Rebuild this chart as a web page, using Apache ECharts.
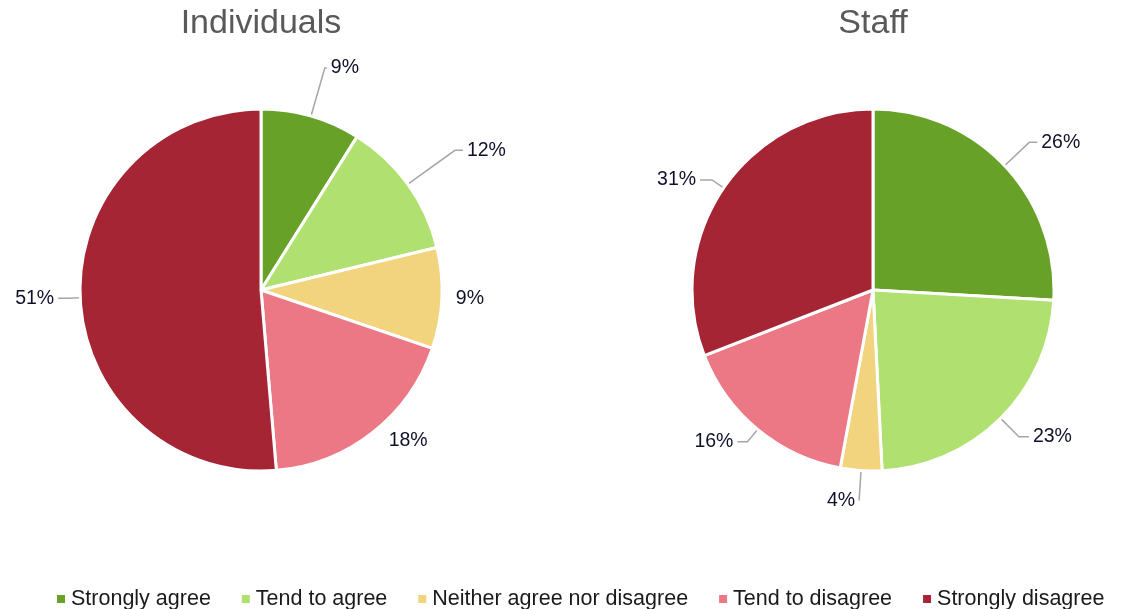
<!DOCTYPE html>
<html>
<head>
<meta charset="utf-8">
<script src="https://cdn.jsdelivr.net/npm/echarts@6/dist/echarts.min.js"></script>
<style>
html,body{margin:0;padding:0;background:#fff;}
#chart{width:1121px;height:609px;}
</style>
</head>
<body>
<div id="chart"></div>
<script>
var categories = ['Strongly agree', 'Tend to agree', 'Neither agree nor disagree', 'Tend to disagree', 'Strongly disagree'];
var individualsValues = [8.9, 12.3, 9.0, 18.4, 51.3];
var staffValues = [25.9, 23.3, 3.7, 16.2, 30.9];
var chartTitles = ['Individuals', 'Staff'];
var colors = ['#68a128', '#afe070', '#f2d47f', '#eb7884', '#a52535'];

// label leader-line styling per slice (first segment, second segment, visible)
var individualsLeader = [[50, 2, true], [58, 8, true], [6, 4, false], [10, 6, false], [12, 10, true]];
var staffLeader = [[34, 8, true], [26, 10, true], [30, 0, true], [16, 10, true], [14, 12, true]];

var FONT = '"Liberation Sans", Arial, sans-serif';

function toData(vals, leader) {
  return categories.map(function (c, i) {
    return {
      name: c,
      value: vals[i],
      labelLine: { show: leader[i][2], length: leader[i][0], length2: leader[i][1] }
    };
  });
}

function pieSeries(vals, leader, center) {
  return {
    type: 'pie',
    center: center,
    radius: 181,
    startAngle: 90,
    clockwise: true,
    avoidLabelOverlap: false,
    data: toData(vals, leader),
    itemStyle: { borderColor: '#ffffff', borderWidth: 3 },
    label: {
      show: true,
      position: 'outside',
      formatter: function (p) { return Math.round(p.value) + '%'; },
      fontFamily: FONT,
      fontSize: 19.5,
      color: '#10102a',
      distanceToLabelLine: 4
    },
    labelLine: {
      show: true,
      length: 20,
      length2: 10,
      lineStyle: { color: '#a6a6a6', width: 1.5 }
    },
    emphasis: { disabled: true }
  };
}

var chart = echarts.init(document.getElementById('chart'), null, { renderer: 'canvas' });
chart.setOption({
  animation: false,
  color: colors,
  title: [
    { text: chartTitles[0], left: 256, top: 2, textAlign: 'center',
      textStyle: { fontFamily: FONT, fontSize: 34, fontWeight: 'normal', color: '#595959' } },
    { text: chartTitles[1], left: 868, top: 2, textAlign: 'center',
      textStyle: { fontFamily: FONT, fontSize: 34, fontWeight: 'normal', color: '#595959' } }
  ],
  legend: {
    data: categories,
    top: 583,
    left: 50,
    icon: 'rect',
    itemWidth: 10,
    itemHeight: 10,
    itemGap: 29,
    textStyle: { fontFamily: FONT, fontSize: 21.5, color: '#1a1a1a' }
  },
  series: [
    pieSeries(individualsValues, individualsLeader, [261, 290]),
    pieSeries(staffValues, staffLeader, [873, 290])
  ]
});
</script>
</body>
</html>
